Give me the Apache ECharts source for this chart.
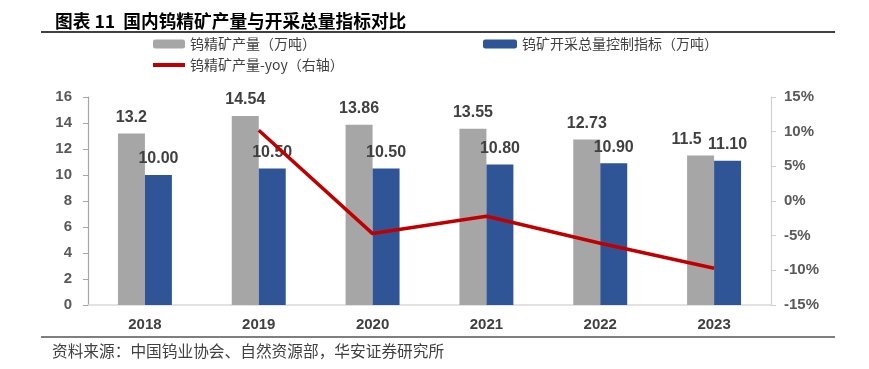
<!DOCTYPE html>
<html>
<head>
<meta charset="utf-8">
<script src="https://cdn.jsdelivr.net/npm/echarts@6/dist/echarts.min.js"></script>
<style>
html,body{margin:0;padding:0;background:#fff;}
#c{width:869px;height:369px;}
</style>
</head>
<body>
<div id="c"></div>
<script>
var categories = ['2018', '2019', '2020', '2021', '2022', '2023'];
var output = [13.2, 14.54, 13.86, 13.55, 12.73, 11.5];
var outputLabels = ['13.2', '14.54', '13.86', '13.55', '12.73', '11.5'];
var quota = [10.0, 10.5, 10.5, 10.8, 10.9, 11.1];
var yoy = [null, 10.2, -4.7, -2.2, -6.1, -9.7];
var leftTicks = [0, 16, 2];
var rightTicks = [-15, 15, 5];

var nameOutput = '钨精矿产量（万吨）';
var nameQuota = '钨矿开采总量控制指标（万吨）';
var nameYoy = '钨精矿产量-yoy（右轴）';

var latin = '"Liberation Sans", Arial, "Noto Sans CJK SC", sans-serif';
var cjk = '"Noto Sans CJK SC", sans-serif';

var outputData = output.map(function (v, i) {
  var item = {value: v};
  if (i === output.length - 1) item.label = {offset: [-14, 0]};
  return item;
});

var chart = echarts.init(document.getElementById('c'));
chart.setOption({
  animation: false,
  backgroundColor: '#fff',
  title: {
    text: '图表 11  国内钨精矿产量与开采总量指标对比',
    left: 50, top: 7,
    textStyle: {fontFamily: cjk, fontSize: 17.7, fontWeight: 'bold', color: '#000'}
  },
  graphic: [
    {type: 'line', shape: {x1: 41, y1: 32, x2: 835, y2: 32}, style: {stroke: '#000', lineWidth: 1.5}},
    {type: 'line', shape: {x1: 41, y1: 337, x2: 835, y2: 337}, style: {stroke: '#000', lineWidth: 1.2}},
    {type: 'text', left: 52, top: 343, style: {text: '资料来源：中国钨业协会、自然资源部，华安证券研究所', font: '15.7px ' + cjk, fill: '#404040'}}
  ],
  legend: [
    {data: [nameOutput], left: 153, top: 37, padding: 0, itemWidth: 32, itemHeight: 9,
     textStyle: {fontFamily: cjk, fontSize: 14, color: '#404040'}},
    {data: [nameQuota], left: 483, top: 37, padding: 0, itemWidth: 34, itemHeight: 9,
     textStyle: {fontFamily: cjk, fontSize: 14, color: '#404040'}},
    {data: [{name: nameYoy, icon: 'rect'}], left: 153, top: 58, padding: 0, itemWidth: 32, itemHeight: 4,
     textStyle: {fontFamily: cjk, fontSize: 14, color: '#404040'}}
  ],
  grid: {left: 88, right: 98, top: 97, bottom: 64},
  xAxis: {
    type: 'category', data: categories,
    axisLine: {lineStyle: {color: '#D9D9D9', width: 1.5}},
    axisTick: {show: false},
    axisLabel: {fontFamily: latin, fontSize: 15, fontWeight: 'bold', color: '#404040', margin: 12}
  },
  yAxis: [
    {type: 'value', min: leftTicks[0], max: leftTicks[1], interval: leftTicks[2],
     splitLine: {show: false},
     axisLine: {show: true, lineStyle: {color: '#A6A6A6', width: 1.2}},
     axisTick: {show: true, length: 5, lineStyle: {color: '#A6A6A6'}},
     axisLabel: {fontFamily: latin, fontSize: 15, fontWeight: 'bold', color: '#595959', margin: 16}},
    {type: 'value', min: rightTicks[0], max: rightTicks[1], interval: rightTicks[2], position: 'right',
     splitLine: {show: false},
     axisLine: {show: true, lineStyle: {color: '#D0D0D0', width: 1.2}},
     axisTick: {show: true, length: 5, lineStyle: {color: '#D0D0D0'}},
     axisLabel: {fontFamily: latin, fontSize: 15, fontWeight: 'bold', color: '#595959', margin: 13, formatter: '{value}%'}}
  ],
  series: [
    {name: nameOutput, type: 'bar', data: outputData, barWidth: '23.7%', barGap: '0%',
     itemStyle: {color: '#A6A6A6'},
     label: {show: true, position: 'top', distance: 8, fontFamily: latin, fontSize: 16, fontWeight: 'bold', color: '#404040',
       formatter: function (p) { return outputLabels[p.dataIndex]; }}},
    {name: nameQuota, type: 'bar', data: quota, barWidth: '23.7%', barGap: '0%',
     itemStyle: {color: '#2F5597'},
     label: {show: true, position: 'top', distance: 8, fontFamily: latin, fontSize: 16, fontWeight: 'bold', color: '#404040',
       formatter: function (p) { return p.value.toFixed(2); }}},
    {name: nameYoy, type: 'line', yAxisIndex: 1, data: yoy, z: 5,
     showSymbol: false, symbol: 'none',
     lineStyle: {color: '#C00000', width: 3.5},
     itemStyle: {color: '#C00000'}}
  ]
});
</script>
</body>
</html>
